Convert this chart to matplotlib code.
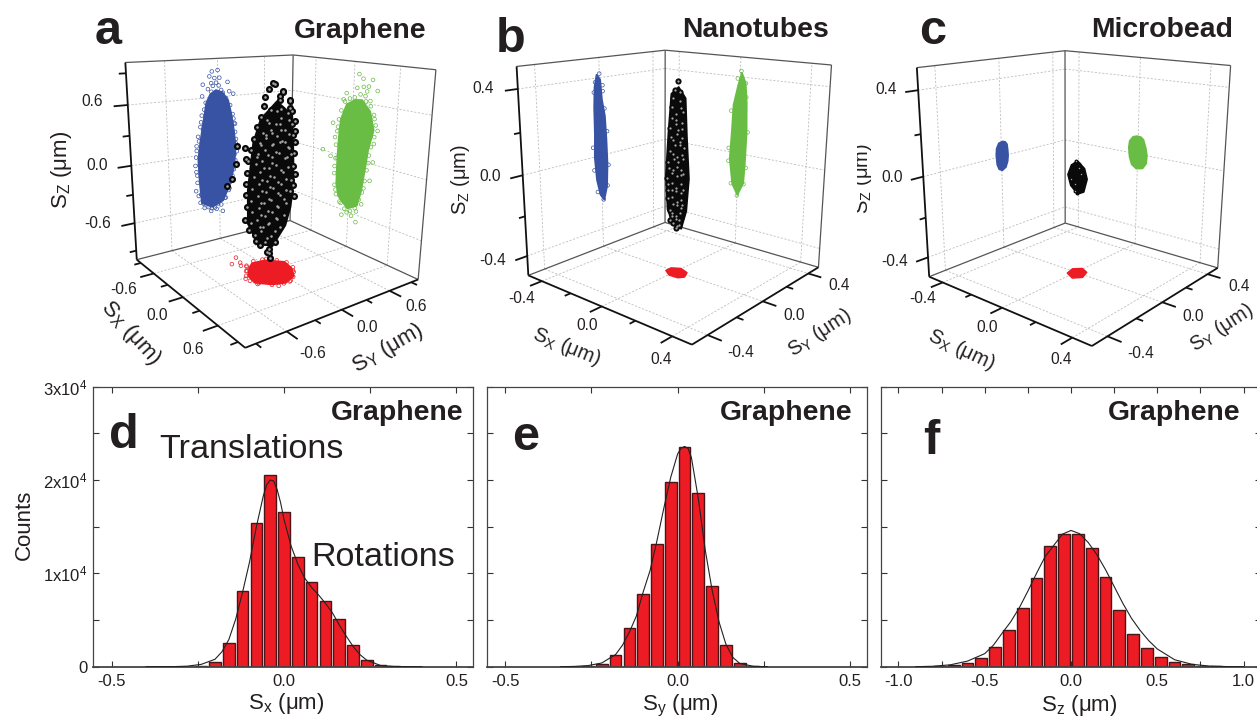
import numpy as np
import matplotlib
matplotlib.use('Agg')
import matplotlib.pyplot as plt
from matplotlib.transforms import Bbox, TransformedBbox
from mpl_toolkits.mplot3d.art3d import Poly3DCollection

plt.rcParams['font.family'] = ['Liberation Sans', 'DejaVu Sans']
plt.rcParams['mathtext.fontset'] = 'custom'
plt.rcParams['mathtext.rm'] = 'Liberation Sans'
plt.rcParams['mathtext.it'] = 'Liberation Sans:italic'
plt.rcParams['mathtext.default'] = 'regular'

W, H = 1257, 717
BLUE, GREEN, RED = '#3953a4', '#69bd45', '#ed1c24'

# ---- histograms (bin centre in um, counts)
hist_d_x = [-0.28, -0.24, -0.20, -0.16, -0.12, -0.08, -0.04, 0.0, 0.04, 0.08, 0.12, 0.16, 0.20, 0.24, 0.28, 0.32]
hist_d_y = [20, 100, 535, 2500, 8070, 15430, 20570, 16540, 11710, 9040, 7040, 5140, 2360, 750, 180, 30]
fit_d_x = [-0.40, -0.32, -0.28, -0.24, -0.20, -0.18, -0.16, -0.14, -0.12, -0.10, -0.08, -0.06, -0.05, -0.04, -0.03, -0.02, -0.01,
           0.0, 0.02, 0.04, 0.06, 0.08, 0.10, 0.12, 0.14, 0.16, 0.18, 0.20, 0.22, 0.24, 0.28, 0.32, 0.40]
fit_d_y = [0, 10, 60, 250, 800, 1600, 2900, 5100, 8000, 11200, 15000, 18300, 19500, 20000, 19900, 19000, 17600,
           15800, 13000, 11000, 9500, 8500, 7700, 6800, 5800, 4500, 3300, 2200, 1300, 700, 130, 20, 0]

hist_e_x = [-0.26, -0.22, -0.18, -0.14, -0.10, -0.06, -0.02, 0.02, 0.06, 0.10, 0.14, 0.18, 0.22]
hist_e_y = [60, 285, 1290, 4100, 7790, 13100, 19790, 23500, 18640, 8680, 2290, 390, 40]
fit_e_x = [-0.34, -0.30, -0.26, -0.22, -0.18, -0.16, -0.14, -0.12, -0.10, -0.08, -0.06, -0.04, -0.02, 0.0, 0.01, 0.02, 0.03,
           0.04, 0.06, 0.08, 0.10, 0.12, 0.14, 0.16, 0.18, 0.22, 0.26]
fit_e_y = [0, 30, 120, 400, 1300, 2300, 3700, 5400, 8000, 10300, 13500, 17000, 20300, 22800, 23400, 23600, 23400,
           22400, 18000, 12500, 8200, 4800, 2400, 1000, 350, 40, 0]

hist_f_x = [-0.76, -0.68, -0.60, -0.52, -0.44, -0.36, -0.28, -0.20, -0.12, -0.04, 0.04, 0.12, 0.20, 0.28, 0.36, 0.44, 0.52, 0.60, 0.68, 0.76, 0.84, 0.92]
hist_f_y = [60, 140, 390, 930, 2140, 3930, 6320, 9540, 12930, 14180, 14180, 12710, 9570, 6110, 3460, 2000, 1000, 460, 250, 120, 70, 20]
fit_f_x = [-0.90, -0.80, -0.70, -0.60, -0.50, -0.45, -0.40, -0.35, -0.30, -0.25, -0.20, -0.15, -0.10, -0.05, 0.0,
           0.05, 0.10, 0.15, 0.20, 0.25, 0.30, 0.35, 0.40, 0.45, 0.50, 0.60, 0.70, 0.80, 0.90, 1.0]
fit_f_y = [0, 50, 200, 600, 1400, 2300, 3570, 4800, 6300, 8100, 10000, 11800, 13000, 14200, 14600,
           14250, 13300, 12000, 10400, 8600, 6800, 5200, 3900, 2800, 1900, 750, 260, 70, 15, 0]

# ---- 3d panels. dense part of each cloud is an outline, the loose points are listed one by one
# panel a, blue = (Sy, Sz), green = (Sx, Sz), red = (Sx, Sy)
blue_a_core = [(-.03, .68), (.05, .65), (.12, .56), (.16, .40), (.19, .22), (.21, .04), (.19, -.18), (.12, -.40), (.04, -.55),
               (-.10, -.60), (-.23, -.53), (-.25, -.29), (-.26, -.04), (-.23, .15), (-.18, .40), (-.15, .55), (-.10, .64)]
blue_a_pts = [(0, .88), (-.07, .87), (-.10, .82), (-.18, .74), (.02, .80), (-.04, .80), (-.08, .75), (.12, .75), (.14, .65),
              (.19, .62), (-.12, .69), (-.19, .62), (-.02, .75), (.06, .64), (-.21, .35), (-.19, .27), (.19, .35), (.21, .29),
              (-.24, .15), (-.27, .05), (-.29, -.11), (-.24, -.11), (-.27, -.22), (.20, -.05), (.22, .07), (.17, -.13),
              (.17, -.29), (.14, -.36), (-.29, -.39), (-.23, -.44), (-.24, -.53), (-.19, -.60), (-.11, -.65), (-.04, -.64),
              (.04, -.68), (-.10, -.62), (-.02, -.58), (.07, -.53), (.12, -.45),
              (-.15, .55), (-.17, .48), (-.20, .42), (-.22, .30), (-.25, .20), (-.27, .10), (-.28, -.02), (-.28, -.18),
              (-.27, -.30), (-.26, -.45), (-.20, -.55), (-.14, -.60), (-.06, -.62), (.02, -.60), (.08, -.53), (.13, -.43),
              (.17, -.33), (.19, -.22), (.21, -.12), (.23, -.02), (.22, .12), (.21, .20), (.20, .30), (.18, .40), (.15, .50),
              (.10, .58), (.04, .67), (-.08, .66), (.01, .72), (-.06, .72)]
green_a_core = [(.12, .63), (.24, .53), (.30, .35), (.24, .14), (.21, -.07), (.17, -.32), (.12, -.49), (-.02, -.56),
                (-.17, -.46), (-.21, -.32), (-.21, -.07), (-.20, .18), (-.18, .39), (-.10, .56), (.02, .62)]
green_a_pts = [(.07, .88), (.13, .84), (.26, .84), (.33, .74), (.21, .77), (.14, .76), (.05, .74), (.17, .67), (-.10, .67),
               (-.14, .60), (.31, .46), (.36, .35), (.32, .21), (.26, 0), (.32, .02), (.29, -.18), (.21, -.28), (.19, -.46),
               (.12, -.56), (.05, -.63), (-.02, -.61), (-.10, -.66), (.12, -.68), (-.12, -.53), (-.21, -.40), (-.24, -.14),
               (-.21, -.04), (-.31, -.04), (-.44, .01), (-.29, .33), (-.25, .18), (-.21, .30), (.24, .63), (.19, .72),
               (-.12, .58), (-.17, .48), (-.20, .38), (-.22, .25), (-.23, .10), (-.23, -.05), (-.24, -.22), (-.23, -.35),
               (-.20, -.45), (-.14, -.52), (-.06, -.58), (.03, -.58), (.10, -.53), (.15, -.42), (.19, -.33), (.22, -.20),
               (.24, -.08), (.26, .08), (.28, .17), (.32, .28), (.33, .40), (.30, .50), (.25, .58), (.18, .62), (.10, .68),
               (.02, .64), (-.05, .62)]
red_a_core = [(-.252, -.084), (-.234, .066), (-.087, .205), (.071, .173), (.230, .079), (.301, -.073), (.253, -.202),
              (.126, -.314), (-.032, -.282), (-.178, -.170)]
red_a_pts = [(-.451, -.145), (-.339, -.266), (-.320, -.178), (-.254, -.212), (-.222, -.167), (-.114, -.232), (.018, -.338),
             (.176, -.309), (.322, -.170), (.141, .143), (.301, -.012), (-.242, .092),
             (-.27, -.05), (-.25, .05), (-.15, .16), (-.05, .21), (.08, .19), (.17, .13), (.25, .06), (.31, -.03), (.31, -.10),
             (.27, -.21), (.17, -.29), (.08, -.33), (-.03, -.30), (-.12, -.24), (-.20, -.18)]
black_a_core = [(0, .02, .683), (0, .203, .538), (0, .224, .203), (0, .236, -.128), (0, .203, -.38), (0, .142, -.56), (0, -.02, -.749),
                (0, -.203, -.652), (0, -.305, -.446), (0, -.305, -.118), (0, -.244, .326), (0, -.163, .534)]
black_a = [(.05, -.04, .85), (-.04, .01, .84), (-.06, -.02, .79), (.07, .04, .77), (-.02, .11, .76),
           (-.10, -.04, .71), (.05, .02, .70), (.12, .09, .69), (-.03, .08, .72), (.02, .16, .68),
           (-.14, -.02, .62), (-.05, 0, .59), (.03, .05, .61), (.10, .08, .58), (.15, .09, .60), (-.09, .09, .57), (0, .18, .60),
           (-.15, -.05, .52), (-.07, -.03, .50), (0, .02, .47), (.06, .03, .53), (.13, .10, .48), (.16, .11, .51), (-.04, .10, .45), (.03, .15, .50), (-.11, .02, .46),
           (-.16, -.09, .42), (-.09, -.07, .38), (-.03, -.02, .41), (.05, -.01, .36), (.11, .04, .43), (.17, .09, .38), (-.10, .05, .36), (-.02, .09, .40), (.07, .12, .37), (.13, .14, .41), (-.14, .01, .34),
           (-.17, -.11, .31), (-.11, -.09, .28), (-.06, -.05, .33), (.01, -.03, .27), (.08, .01, .31), (.15, .05, .27), (.18, .10, .32), (-.07, .04, .26), (.03, .07, .30), (.10, .10, .25), (-.16, -.04, .24), (-.01, .13, .28),
           (-.18, -.14, .20), (-.12, -.10, .17), (-.05, -.07, .22), (.02, -.04, .16), (.09, -.01, .21), (.16, .03, .18), (.19, .09, .22), (-.10, 0, .15), (-.03, .04, .19), (.06, .08, .14), (.12, .11, .19), (-.17, -.08, .13),
           (-.18, -.17, .10), (-.13, -.12, .07), (-.07, -.09, .11), (0, -.06, .05), (.07, -.03, .09), (.14, 0, .04), (.20, .07, .10), (-.12, -.03, .02), (-.04, .01, .08), (.04, .05, .03), (.11, .08, .07), (.17, .12, .01),
           (-.19, -.18, -.02), (-.14, -.13, -.06), (-.08, -.10, 0), (-.01, -.07, -.07), (.06, -.04, -.02), (.13, -.01, -.08), (.20, .05, -.03), (-.12, -.05, -.09), (-.05, -.01, -.04), (.03, .03, -.09), (.10, .07, -.05), (.17, .10, -.10),
           (-.20, -.18, -.13), (-.15, -.15, -.17), (-.09, -.11, -.12), (-.02, -.08, -.18), (.05, -.05, -.13), (.12, -.02, -.19), (.19, .05, -.14), (.21, .08, -.19), (-.11, -.06, -.20), (-.04, -.02, -.15), (.04, .02, -.20), (.11, .06, -.16),
           (-.20, -.19, -.24), (-.15, -.16, -.29), (-.09, -.12, -.23), (-.03, -.09, -.30), (.04, -.06, -.25), (.11, -.03, -.31), (.17, .02, -.26), (-.11, -.07, -.32), (-.04, -.03, -.27), (.05, 0, -.32), (.12, .03, -.24),
           (-.19, -.18, -.36), (-.14, -.15, -.41), (-.08, -.12, -.35), (-.02, -.09, -.42), (.05, -.06, -.37), (.11, -.04, -.43), (.16, .01, -.38), (-.10, -.08, -.44), (-.03, -.04, -.39), (.05, -.01, -.44),
           (-.21, -.19, -.50), (-.16, -.15, -.53), (-.10, -.13, -.48), (-.04, -.10, -.54), (.03, -.07, -.49), (.09, -.05, -.55), (.14, -.02, -.50), (-.09, -.09, -.56), (-.02, -.05, -.51),
           (-.18, -.16, -.60), (-.12, -.13, -.64), (-.06, -.11, -.59), (0, -.08, -.65), (.06, -.07, -.61), (.10, -.05, -.66),
           (-.13, -.12, -.71), (-.08, -.10, -.74), (-.02, -.08, -.70), (.04, -.08, -.75), (-.02, -.06, -.81), (.03, -.07, -.80), (.06, -.08, -.84),
           (-.20, -.285, .256), (-.20, -.19, .223), (-.20, -.293, .085), (-.20, -.346, -.052), (-.20, -.398, -.115), (-.20, -.183, .116)]

# panel b
blue_b_core = [(-.022, .419), (.002, .393), (.011, .291), (.029, .205), (.036, .085), (.04, -.051), (.033, -.171), (.011, -.239),
               (-.016, -.205), (-.038, -.12), (-.049, 0), (-.044, .12), (-.044, .256), (-.038, .359)]
blue_b_pts = [(0, .42), (-.03, .38), (.02, .36), (-.04, .33), (.02, .33), (.03, .24), (.045, .12), (-.055, .05), (.05, -.06),
              (-.05, -.07), (.04, -.17), (-.03, -.19), (.01, -.24)]
green_b_core = [(.006, .424), (.031, .373), (.041, .271), (.046, .119), (.041, -.051), (.035, -.153), (0, -.225), (-.035, -.169),
                (-.055, -.034), (-.046, .119), (-.04, .254), (-.015, .356)]
green_b_pts = [(.006, .43), (-.015, .39), (.035, .37), (.04, .30), (-.05, .22), (.055, .12), (-.06, .02), (-.06, -.05), (.05, -.07),
               (.04, -.16), (-.04, -.17), (0, -.23)]
red_b_core = [(-.048, -.021), (-.049, .019), (-.008, .045), (.046, .025), (.069, -.022), (.049, -.049), (-.001, -.052)]
black_b_core = [(0, .01, .405), (0, .061, .347), (0, .073, .16), (0, .091, -.047), (0, .073, -.207), (0, .035, -.287),
                (0, -.028, -.242), (0, -.066, -.162), (0, -.078, .008), (0, -.061, .203), (0, -.041, .38)]
black_b = [(0, .01, .43), (-.01, .0, .39), (.01, .01, .38), (-.02, .0, .35), (.01, .015, .34), (-.02, -.01, .31), (.015, .01, .31), (.02, .02, .29), (-.005, .005, .28),
           (-.025, -.005, .26), (.0, -.005, .25), (.02, .015, .24), (-.015, .015, .23), (-.03, -.01, .21), (-.005, .02, .20), (.025, .01, .21), (.01, -.01, .19),
           (-.03, -.005, .17), (-.01, -.015, .16), (.015, .005, .15), (.03, .005, .17), (-.02, .015, .13), (.005, .02, .13), (.03, .015, .12),
           (-.035, -.005, .10), (-.015, -.01, .09), (.01, -.005, .08), (.025, .01, .09), (.035, .005, .07), (-.025, .01, .06), (0, .015, .05), (-.04, -.015, .05),
           (-.035, -.01, .02), (-.015, -.005, .01), (.01, -.01, .03), (.03, .0, .02), (.04, .0, 0), (-.03, .005, -.01), (-.005, .01, -.02), (.015, .015, -.01), (-.045, -.015, -.03),
           (-.035, -.015, -.06), (-.015, -.01, -.05), (.01, -.01, -.07), (.03, 0, -.05), (.04, .005, -.08), (-.03, .005, -.09), (-.005, .005, -.09), (.02, .01, -.10), (-.045, -.01, -.09),
           (-.04, -.01, -.13), (-.015, -.015, -.12), (.01, -.005, -.14), (.03, .0, -.13), (.04, -.005, -.15), (-.025, .005, -.16), (0, .01, -.16), (.025, .005, -.17),
           (-.035, -.005, -.19), (-.015, -.015, -.20), (.01, -.01, -.21), (.03, -.005, -.19), (-.025, .0, -.22), (-.005, .005, -.23), (.02, .0, -.23), (-.03, -.01, -.24),
           (-.01, -.01, -.25), (.01, -.005, -.26), (.025, -.01, -.25), (.015, -.015, -.27)]

# panel c
blue_c_core = [(.007, .08), (.025, .075), (.038, .06), (.042, .03), (.044, 0), (.04, -.03), (.026, -.06), (0, -.072), (-.022, -.062),
               (-.035, -.035), (-.04, .017), (-.036, .05), (-.02, .075)]
green_c_core = [(-.01, .097), (.015, .095), (.031, .083), (.047, .04), (.055, .003), (.052, -.04), (.03, -.07), (-.01, -.078),
                (-.04, -.06), (-.055, -.02), (-.061, .029), (-.056, .065), (-.035, .09)]
red_c_core = [(-.030, -.032), (-.044, .023), (-.010, .058), (.035, .036), (.057, -.022), (.025, -.060)]
black_c_core = [(0, .008, .061), (0, .058, .015), (0, .078, -.042), (0, .053, -.10), (0, .008, -.099), (0, -.043, -.045), (0, -.063, .012), (0, -.038, .053)]
black_c = [(0, .0, .06), (.01, .005, .05), (-.01, .0, .05), (-.015, -.005, .03), (0, -.005, .03), (.015, .0, .03), (.02, .01, .02),
           (-.02, -.005, .01), (-.005, .0, .01), (.01, .005, .01), (.025, .005, 0), (-.025, -.01, -.005), (-.01, -.005, -.01), (.01, -.005, -.01),
           (.025, .01, -.02), (-.025, -.005, -.03), (-.01, 0, -.03), (.005, .005, -.03), (.02, .0, -.04), (-.02, -.005, -.05), (0, -.005, -.05),
           (.015, .005, -.06), (-.015, 0, -.07), (.005, -.005, -.07), (.02, -.005, -.075), (-.005, -.005, -.085), (.01, -.005, -.09)]

# view of each cube, fitted to the corners of the reference
views = {'a': (15.59, -36.88, 0.302, 1.007, 1.003, -0.61, 1914.1, 273.9, 172.6),
         'b': (15.53, -49.95, 0.358, 0.991, 0.990, -0.30, 1943.1, 676.3, 172.7),
         'c': (15.78, -49.96, 0.357, 0.993, 0.997, -0.20, 1938.3, 1076.2, 173.7)}

fig = plt.figure(figsize=(W / 100, H / 100), dpi=100)


def ftext(x, y, s, **kw):
    # x, y in picture pixels
    kw.setdefault('ha', 'center')
    kw.setdefault('va', 'center')
    kw.setdefault('color', '#231f20')
    return fig.text(x / W, 1 - y / H, s, **kw)


def place(ax, s, ox, oy):
    ax.set_position([0.1, 0.1, 500 / W, 500 / H])
    ax.apply_aspect()
    T = ax.transData
    s0 = T.transform((1, 0))[0] - T.transform((0, 0))[0]
    size = 500 * s / s0
    ax.set_position([0.1, 0.1, size / W, size / H])
    ax.apply_aspect()
    p = T.transform((0, 0))
    ax.set_position([0.1 + (ox - p[0]) / W, 0.1 + (H - oy - p[1]) / H, size / W, size / H])
    ax.apply_aspect()


def cube(key, L, major, minor, blue_core, green_core, red_core, black_core, blue_pts, green_pts, red_pts, black, ball, hi_step):
    elev, azim, f, ay, az, roll, s, ox, oy = views[key]
    ax = fig.add_axes([0.1, 0.1, 0.3, 0.3], projection='3d')
    ax.patch.set_alpha(0)
    ax.set_axis_off()
    ax.computed_zorder = False
    ax.set_xlim(-L, L)
    ax.set_ylim(-L, L)
    ax.set_zlim(-L, L)
    ax.view_init(elev=elev, azim=azim, roll=roll)
    ax.set_proj_type('persp', focal_length=f)
    ax.set_box_aspect((1, ay, az))
    place(ax, s, ox, oy)

    def line(a, b, **kw):
        ax.plot([a[0], b[0]], [a[1], b[1]], [a[2], b[2]], clip_on=False, solid_capstyle='butt', **kw)

    grid = dict(color='#bdbdbd', lw=0.6, ls=(0, (2.5, 2)), zorder=1)
    for t in major:
        line((-L, t, -L), (-L, t, L), **grid)
        line((-L, -L, t), (-L, L, t), **grid)
        line((t, L, -L), (t, L, L), **grid)
        line((-L, L, t), (L, L, t), **grid)
        line((t, -L, -L), (t, L, -L), **grid)
        line((-L, t, -L), (L, t, -L), **grid)

    thin = dict(color='#555555', lw=0.9, zorder=2)
    thick = dict(color='#111111', lw=1.3, zorder=2)
    line((-L, L, -L), (-L, L, L), **thin)
    line((-L, -L, L), (-L, L, L), **thin)
    line((-L, L, L), (L, L, L), **thin)
    line((L, L, -L), (L, L, L), **thin)
    line((-L, -L, -L), (-L, L, -L), **thin)
    line((-L, L, -L), (L, L, -L), **thin)
    line((-L, -L, -L), (-L, -L, L), **thick)
    line((-L, -L, -L), (L, -L, -L), **thick)
    line((L, -L, -L), (L, L, -L), **thick)

    for ticks, n in ((major, 0.14), (minor, 0.07)):
        for t in ticks:
            line((-L, -L, t), (-L, -L - n * L, t), **thick)
            line((t, -L, -L), (t, -L - n * L, -L), **thick)
            line((L, t, -L), (L + n * L, t, -L), **thick)

    # clouds projected on the walls
    for core, col, to3d in ((blue_core, BLUE, lambda p: (-L, p[0], p[1])),
                            (green_core, GREEN, lambda p: (p[0], L, p[1])),
                            (red_core, RED, lambda p: (p[0], p[1], -L)),
                            (black_core, '#0a0a0a', lambda p: p)):
        poly = Poly3DCollection([[to3d(p) for p in core]], facecolors=col, edgecolors=col, linewidths=1.2,
                                joinstyle='round', zorder=3)
        ax.add_collection3d(poly, autolim=False)
    for pts, col, to3d in ((blue_pts, BLUE, lambda p: (-L, p[0], p[1])),
                           (green_pts, GREEN, lambda p: (p[0], L, p[1])),
                           (red_pts, RED, lambda p: (p[0], p[1], -L))):
        if len(pts) == 0:
            continue
        xyz = np.array([to3d(p) for p in pts])
        ax.scatter(xyz[:, 0], xyz[:, 1], xyz[:, 2], s=7, facecolors='none', edgecolors=col, linewidths=0.5,
                   depthshade=False, zorder=4, clip_on=False)

    b = np.array(black)
    ax.scatter(b[:, 0], b[:, 1], b[:, 2], s=ball, c='#0a0a0a', linewidths=0, depthshade=False, zorder=5, clip_on=False)
    h = b[::hi_step]
    ax.scatter(h[:, 0], h[:, 1], h[:, 2], s=ball * 0.13, c='#a8a8a8', linewidths=0, depthshade=False, zorder=6, clip_on=False)
    return ax


cube('a', 1.0, [-0.6, 0, 0.6], [-0.9, -0.3, 0.3, 0.9], blue_a_core, green_a_core, red_a_core, black_a_core,
     blue_a_pts, green_a_pts, red_a_pts, black_a, 26, 1)
cube('b', 0.5, [-0.4, 0, 0.4], [-0.2, 0.2], blue_b_core, green_b_core, red_b_core, black_b_core,
     blue_b_pts, green_b_pts, [], black_b, 20, 1)
cube('c', 0.5, [-0.4, 0, 0.4], [-0.2, 0.2], blue_c_core, green_c_core, red_c_core, black_c_core,
     [], [], [], black_c, 8, 5)

# tick labels of the cubes
cube_labels = [('0.6', 92.5, 102), ('0.0', 96.7, 165), ('-0.6', 98, 223), ('-0.6', 124, 289), ('0.0', 156.7, 316), ('0.6', 193, 349),
               ('-0.6', 312.7, 353), ('0.0', 366.7, 328), ('0.6', 415.7, 307),
               ('0.4', 483.3, 88.3), ('0.0', 490, 176.7), ('-0.4', 492.7, 260), ('-0.4', 521.7, 298.3), ('0.0', 586.7, 326), ('0.4', 660.7, 359.3),
               ('-0.4', 741, 352.7), ('0.0', 794, 315.7), ('0.4', 839, 285),
               ('0.4', 886, 89), ('0.0', 892.3, 177.3), ('-0.4', 894.3, 261), ('-0.4', 922.3, 299), ('0.0', 987.3, 327.3), ('0.4', 1060.7, 360),
               ('-0.4', 1141, 353.3), ('0.0', 1193.3, 316.7), ('0.4', 1239, 286)]
for s, x, y in cube_labels:
    ftext(x, y, s, fontsize=11.2)

sx = 'S$_{X}$ (μm)'
sy = 'S$_{Y}$ (μm)'
sz = 'S$_{Z}$ (μm)'
ftext(61.7, 170, sz, fontsize=16, rotation=90)
ftext(131, 333, sx, fontsize=16, rotation=-48, rotation_mode='anchor')
ftext(388, 348, sy, fontsize=16, rotation=30, rotation_mode='anchor')
ftext(460, 180, sz, fontsize=14.5, rotation=90)
ftext(566.7, 346.7, sx, fontsize=14.5, rotation=-22, rotation_mode='anchor')
ftext(820, 333, sy, fontsize=14.5, rotation=33, rotation_mode='anchor')
t = ftext(862, 179, sz, fontsize=14.5, rotation=90)
t.set_clip_box(TransformedBbox(Bbox([[857 / W, 0], [1, 1]]), fig.transFigure))
t.set_clip_on(True)
ftext(961.7, 350, sx, fontsize=14.5, rotation=-25, rotation_mode='anchor')
ftext(1221.7, 328, sy, fontsize=14.5, rotation=33, rotation_mode='anchor')

for s, x, y in (('Graphene', 360, 31), ('Nanotubes', 755, 30.3), ('Microbead', 1161.7, 30.3),
                ('Graphene', 397.3, 413.5), ('Graphene', 786, 413.5), ('Graphene', 1174.3, 413.5)):
    ftext(x, y, s, fontsize=20.4, fontweight='bold')
for s, x, y in (('a', 108, 32), ('b', 510.7, 39), ('c', 933, 32), ('d', 124, 435.5), ('e', 526, 437.3), ('f', 931.7, 441)):
    ftext(x, y, s, fontsize=35, fontweight='bold')


def hist(left, right, lim, ticks, minor, bins, counts, width, fx, fy):
    top, bottom = 386.7, 666.7
    ax = fig.add_axes([left / W, 1 - bottom / H, (right - left) / W, (bottom - top) / H])
    ax.bar(bins, counts, width=width, facecolor=RED, edgecolor='#4a1418', linewidth=1.0, zorder=2)
    ax.plot(fx, fy, color='#222222', lw=0.8, zorder=3)
    ax.set_xlim(lim)
    ax.set_ylim(0, 30000)
    ax.set_xticks(ticks)
    ax.set_xticklabels(['%.1f' % v for v in ticks])
    ax.set_xticks(minor, minor=True)
    ax.set_yticks([0, 10000, 20000, 30000])
    ax.set_yticks([5000, 15000, 25000], minor=True)
    ax.tick_params(which='both', direction='in', top=True, right=True, length=4, width=0.8, color='#333333')
    ax.tick_params(axis='x', which='major', labelsize=12, pad=5, labelcolor='#231f20')
    ax.tick_params(axis='y', which='major', labelsize=12, pad=4, labelcolor='#231f20')
    for side in ax.spines.values():
        side.set_color('#444444')
        side.set_linewidth(0.9)
    ax.spines['bottom'].set_linewidth(1.3)
    return ax


ax_d = hist(93.3, 473.3, (-0.553, 0.549), [-0.5, 0.0, 0.5], [-0.25, 0.25], hist_d_x, hist_d_y, 0.034, fit_d_x, fit_d_y)
ax_d.set_yticklabels(['0', '1x10$^{4}$', '2x10$^{4}$', '3x10$^{4}$'])
ax_e = hist(487.3, 867.3, (-0.552, 0.55), [-0.5, 0.0, 0.5], [-0.25, 0.25], hist_e_x, hist_e_y, 0.034, fit_e_x, fit_e_y)
ax_e.set_yticklabels([])
ax_f = hist(880.7, 1261, (-1.103, 1.101), [-1.0, -0.5, 0.0, 0.5, 1.0], [-0.75, -0.25, 0.25, 0.75], hist_f_x, hist_f_y, 0.068, fit_f_x, fit_f_y)
ax_f.set_yticklabels([])

ftext(251.7, 450, 'Translations', fontsize=24.6)
ftext(383.3, 557, 'Rotations', fontsize=24.6)
ftext(24, 525, 'Counts', fontsize=16, rotation=90)
ftext(286, 703, 'S$_{x}$ (μm)', fontsize=16)
ftext(680, 706, 'S$_{y}$ (μm)', fontsize=16)
ftext(1079.3, 706, 'S$_{z}$ (μm)', fontsize=16)

fig.savefig('out.png', dpi=100)
